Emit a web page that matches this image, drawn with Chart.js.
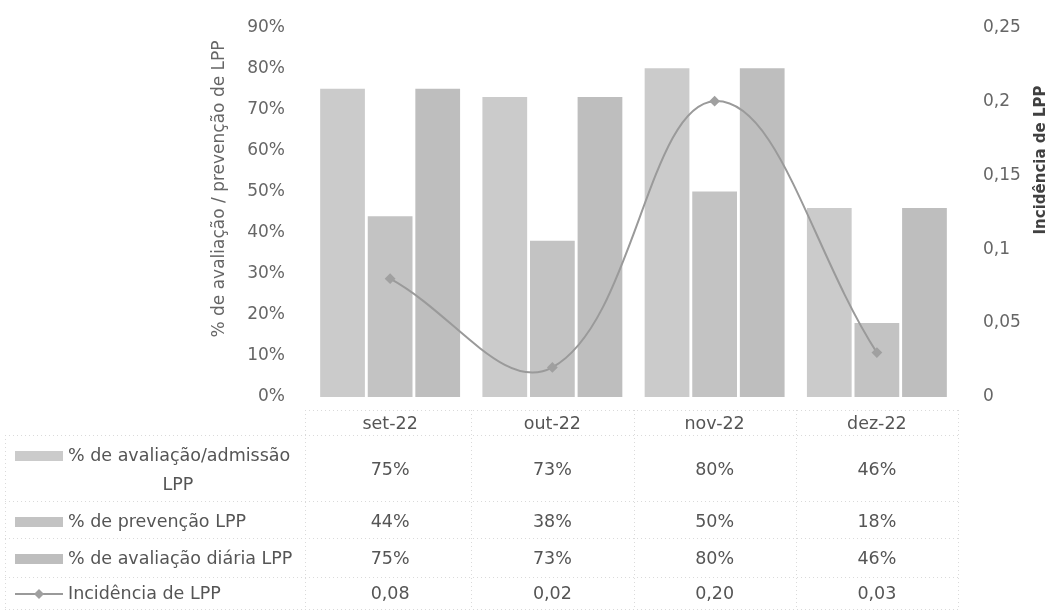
<!DOCTYPE html>
<html>
<head>
<meta charset="utf-8">
<script src="https://cdn.jsdelivr.net/npm/chart.js@4/dist/chart.umd.min.js"></script>
<style>
  html, body { margin: 0; padding: 0; background: #fff; }
  canvas { display: block; }
</style>
</head>
<body>
<canvas id="lppChart" width="1050" height="610"></canvas>
<script>
// dados
const meses = ["set-22", "out-22", "nov-22", "dez-22"];
const avaliacaoAdmissao = [0.75, 0.73, 0.80, 0.46];
const prevencao = [0.44, 0.38, 0.50, 0.18];
const avaliacaoDiaria = [0.75, 0.73, 0.80, 0.46];
const incidencia = [0.08, 0.02, 0.20, 0.03];

const nomes = [
  "% de avaliação/admissão LPP",
  "% de prevenção LPP",
  "% de avaliação diária LPP",
  "Incidência de LPP",
];

const fonte = "'DejaVu Sans', sans-serif";
const corTexto = "#666";
const corTabela = "#555";

const pct = (v) => Math.round(v * 100) + "%";
const virgula = (v, d) => (d === undefined ? String(+v.toFixed(2)) : v.toFixed(d)).replace(".", ",");

// títulos dos eixos (o Excel roda os dois no mesmo sentido)
const titulosPlugin = {
  id: "titulos",
  afterDraw(chart) {
    const ctx = chart.ctx;
    ctx.save();
    ctx.textAlign = "center";
    ctx.textBaseline = "middle";
    ctx.fillStyle = corTexto;
    ctx.font = "17px " + fonte;
    ctx.translate(220, 189);
    ctx.rotate(-Math.PI / 2);
    ctx.fillText("% de avaliação / prevenção de LPP", 0, 0);
    ctx.restore();

    ctx.save();
    ctx.textAlign = "center";
    ctx.textBaseline = "middle";
    ctx.fillStyle = "#404040";
    ctx.font = "bold 15px " + fonte;
    ctx.translate(1041, 160);
    ctx.rotate(-Math.PI / 2);
    ctx.fillText("Incidência de LPP", 0, 0);
    ctx.restore();
  },
};

// tabela de dados por baixo do gráfico, alinhada com a escala x
const tabelaPlugin = {
  id: "tabela",
  afterDraw(chart) {
    const ctx = chart.ctx;
    const x = chart.scales.x;
    const area = chart.chartArea;
    const passo = x.getPixelForValue(1) - x.getPixelForValue(0);
    const linhas = [470, 522, 559, 594];

    ctx.save();
    // linhas pontilhadas da tabela
    ctx.strokeStyle = "#dadada";
    ctx.lineWidth = 1;
    ctx.setLineDash([1, 3]);
    ctx.beginPath();
    ctx.moveTo(305, 410.5); ctx.lineTo(area.right, 410.5);
    [435, 501, 538, 577, 609].forEach((y) => {
      ctx.moveTo(5, y + 0.5); ctx.lineTo(area.right, y + 0.5);
    });
    ctx.moveTo(5.5, 435); ctx.lineTo(5.5, 609);
    ctx.moveTo(305.5, 410); ctx.lineTo(305.5, 609);
    for (let i = 1; i < meses.length; i++) {
      const bx = Math.round(x.getPixelForValue(i) - passo / 2) + 0.5;
      ctx.moveTo(bx, 410); ctx.lineTo(bx, 609);
    }
    ctx.moveTo(Math.round(area.right) + 0.5, 410); ctx.lineTo(Math.round(area.right) + 0.5, 609);
    ctx.stroke();
    ctx.setLineDash([]);

    // legendas das séries e valores
    ctx.font = "17.5px " + fonte;
    ctx.textBaseline = "middle";
    chart.data.datasets.forEach((ds, i) => {
      const y = linhas[i];
      const yLeg = i === 0 ? 456 : y;
      if (ds.type === "line") {
        ctx.strokeStyle = ds.borderColor;
        ctx.lineWidth = 2;
        ctx.beginPath(); ctx.moveTo(15, yLeg); ctx.lineTo(63, yLeg); ctx.stroke();
        ctx.fillStyle = ds.pointBackgroundColor;
        ctx.beginPath();
        ctx.moveTo(39, yLeg - 5); ctx.lineTo(44, yLeg); ctx.lineTo(39, yLeg + 5); ctx.lineTo(34, yLeg);
        ctx.closePath(); ctx.fill();
      } else {
        ctx.fillStyle = ds.backgroundColor;
        ctx.fillRect(15, yLeg - 5, 48, 10);
      }
      ctx.fillStyle = corTabela;
      if (i === 0) {
        ctx.textAlign = "left";
        ctx.fillText("% de avaliação/admissão", 68, 456);
        ctx.textAlign = "center";
        ctx.fillText("LPP", 178, 485);
      } else {
        ctx.textAlign = "left";
        ctx.fillText(nomes[i], 68, y);
      }
      ctx.textAlign = "center";
      ds.data.forEach((v, j) => {
        const txt = ds.type === "line" ? virgula(v, 2) : pct(v);
        ctx.fillText(txt, x.getPixelForValue(j), y);
      });
    });
    ctx.restore();
  },
};

const ctxLpp = document.getElementById("lppChart").getContext("2d");
new Chart(ctxLpp, {
  type: "bar",
  data: {
    labels: meses,
    datasets: [
      {
        label: nomes[0],
        data: avaliacaoAdmissao,
        backgroundColor: "#cbcbcb",
        yAxisID: "y",
        order: 2,
      },
      {
        label: nomes[1],
        data: prevencao,
        backgroundColor: "#c3c3c3",
        yAxisID: "y",
        order: 2,
      },
      {
        label: nomes[2],
        data: avaliacaoDiaria,
        backgroundColor: "#bebebe",
        yAxisID: "y",
        order: 2,
      },
      {
        type: "line",
        label: nomes[3],
        data: incidencia,
        borderColor: "#9a9a9a",
        borderWidth: 2,
        tension: 0.4,
        pointStyle: "rectRot",
        pointRadius: 4,
        pointBackgroundColor: "#a0a0a0",
        pointBorderColor: "#a0a0a0",
        yAxisID: "y1",
        order: 1,
      },
    ],
  },
  options: {
    responsive: false,
    animation: false,
    layout: { padding: { left: 200, top: 25, right: 0, bottom: 0 } },
    datasets: { bar: { categoryPercentage: 0.88, barPercentage: 0.94 } },
    plugins: { legend: { display: false }, tooltip: { enabled: false } },
    scales: {
      x: {
        grid: { display: false },
        border: { display: false },
        ticks: { color: corTabela, font: { family: fonte, size: 17.5 }, padding: 9 },
        afterFit(s) { s.height = 213; },
      },
      y: {
        position: "left",
        min: 0,
        max: 0.9,
        grid: { display: false },
        border: { display: false },
        ticks: {
          stepSize: 0.1,
          padding: 16,
          color: corTexto,
          font: { family: fonte, size: 17 },
          callback: (v) => pct(v),
        },
        afterFit(s) { s.width = 109; },
      },
      y1: {
        position: "right",
        min: 0,
        max: 0.25,
        grid: { display: false },
        border: { display: false },
        ticks: {
          stepSize: 0.05,
          padding: 17,
          color: corTexto,
          font: { family: fonte, size: 17 },
          callback: (v) => virgula(v),
        },
        afterFit(s) { s.width = 92; },
      },
    },
  },
  plugins: [tabelaPlugin, titulosPlugin],
});
</script>
</body>
</html>
